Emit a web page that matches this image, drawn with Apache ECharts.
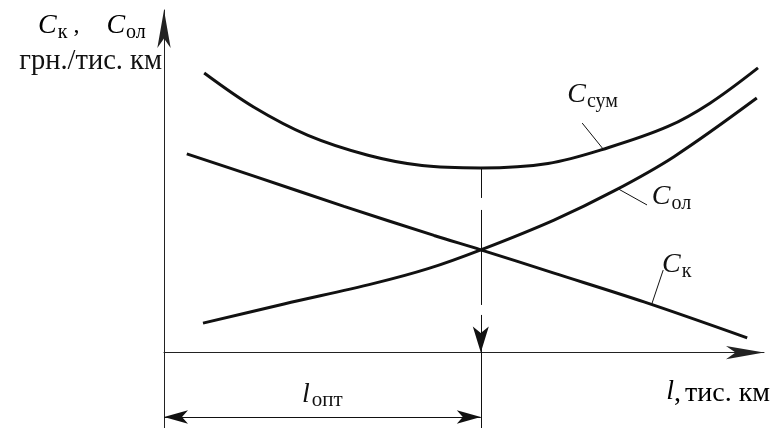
<!DOCTYPE html>
<html>
<head>
<meta charset="utf-8">
<script src="https://cdn.jsdelivr.net/npm/echarts@6/dist/echarts.min.js"></script>
<style>
  html, body { margin: 0; padding: 0; background: #fff; }
  #chart { width: 771px; height: 428px; }
</style>
</head>
<body>
<div id="chart"></div>
<script>
// points, [l, cost] in arbitrary units
const cSum = [[0.67, 8.16], [1.5, 7.16], [2.4, 6.34], [3.4, 5.76], [4.3, 5.46], [5.28, 5.39], [6.4, 5.52], [7.4, 5.98], [8.4, 6.60], [9.1, 7.28], [9.9, 8.31]];
const cOl = [[0.65, 0.86], [2.0, 1.42], [3.5, 2.02], [4.4, 2.45], [5.28, 3.00], [6.5, 3.87], [7.5, 4.72], [8.5, 5.72], [9.88, 7.43]];
const cK = [[0.38, 5.80], [1.5, 5.15], [3.0, 4.27], [4.5, 3.42], [5.28, 3.00], [6.5, 2.32], [8.0, 1.48], [9.72, 0.43]];
const lOpt = 5.28;
const dimY = -1.88;
const xRange = [0, 10];
const yRange = [-2.2, 10];
// curve captions: subscript, text position, leader line
const subs = ['сум', 'ол', 'к'];
const labelPos = [[6.72, 7.52], [8.13, 4.54], [8.30, 2.56]];
const leaders = [[[7.32, 5.94], [6.97, 6.70]], [[7.57, 4.78], [8.05, 4.31]], [[8.13, 1.42], [8.32, 2.41]]];

const serif = '"Liberation Serif", "DejaVu Serif", serif';
const ink = '#111';
const rich = {
  c: { fontFamily: serif, fontStyle: 'italic', fontSize: 28, color: ink },
  s: { fontFamily: serif, fontSize: 20, color: ink, padding: [14, 0, 0, 1] }
};

const chart = echarts.init(document.getElementById('chart'));

function axisLine() {
  return {
    show: true,
    onZero: true,
    symbol: ['none', 'arrow'],
    symbolSize: [10, 38],
    lineStyle: { color: '#222', width: 1 }
  };
}

function curve(name, pts, i) {
  return {
    name: name,
    type: 'line',
    data: pts,
    smooth: 0.35,
    symbol: 'none',
    clip: false,
    silent: true,
    lineStyle: { color: ink, width: 3 },
    markPoint: {
      symbol: 'circle',
      symbolSize: 0,
      silent: true,
      label: { show: true, position: 'right', distance: 0, formatter: '{c|C}{s|' + subs[i] + '}', rich: rich },
      data: [{ coord: labelPos[i] }]
    },
    markLine: {
      silent: true,
      symbol: 'none',
      animation: false,
      label: { show: false },
      lineStyle: { color: ink, width: 1, type: 'solid' },
      data: [[{ coord: leaders[i][0] }, { coord: leaders[i][1] }]]
    }
  };
}

const minSum = Math.min.apply(null, cSum.map(p => p[1]));

const option = {
  animation: false,
  grid: { left: 164, right: 7, top: 10, bottom: 0 },
  xAxis: {
    type: 'value', min: xRange[0], max: xRange[1],
    axisLine: axisLine(), axisTick: { show: false }, axisLabel: { show: false }, splitLine: { show: false }
  },
  yAxis: {
    type: 'value', min: yRange[0], max: yRange[1],
    axisLine: axisLine(), axisTick: { show: false }, axisLabel: { show: false }, splitLine: { show: false }
  },
  graphic: [
    {
      type: 'text', left: 38, top: 12, silent: true,
      style: {
        text: '{c|C}{s|к}{p| ,}{g|}{c|C}{s|ол}',
        rich: Object.assign({ p: { fontFamily: serif, fontSize: 24, color: ink }, g: { width: 27 } }, rich)
      }
    },
    {
      type: 'text', right: 771 - 162, top: 47, silent: true,
      style: { text: 'грн./тис. км', font: '28.5px ' + serif, fill: ink }
    },
    {
      type: 'text', right: 1, top: 378, silent: true,
      style: { text: '{l|l}{t|,}{g|}{t|тис. км}', rich: {
        l: { fontFamily: serif, fontStyle: 'italic', fontSize: 28, color: ink },
        t: { fontFamily: serif, fontSize: 28, color: ink, padding: [3, 0, 0, 0] },
        g: { width: 4 }
      } }
    }
  ],
  series: [
    curve('Cсум', cSum, 0),
    curve('Cол', cOl, 1),
    curve('Cк', cK, 2),
    {
      name: 'opt',
      type: 'line',
      data: [],
      silent: true,
      markLine: {
        silent: true,
        animation: false,
        symbol: 'none',
        label: { show: false },
        lineStyle: { color: ink, width: 1, type: 'solid' },
        data: [
          [
            { coord: [lOpt, minSum], lineStyle: { type: [30, 12, 95, 10, 40, 10] } },
            { coord: [lOpt, 0], symbol: 'arrow', symbolSize: [12, 26] }
          ],
          [{ coord: [lOpt, 0] }, { coord: [lOpt, yRange[0]] }],
          [
            {
              coord: [xRange[0], dimY], symbol: 'arrow', symbolSize: [10, 24],
              label: {
                show: true, position: 'insideMiddleTop', distance: 6,
                formatter: '{l|l}{s|опт}',
                rich: {
                  l: { fontFamily: serif, fontStyle: 'italic', fontSize: 28, color: ink },
                  s: { fontFamily: serif, fontSize: 21, color: ink, padding: [12, 0, 0, 2] }
                }
              }
            },
            { coord: [lOpt, dimY], symbol: 'arrow', symbolSize: [10, 24] }
          ]
        ]
      }
    }
  ]
};

chart.setOption(option);
</script>
</body>
</html>
